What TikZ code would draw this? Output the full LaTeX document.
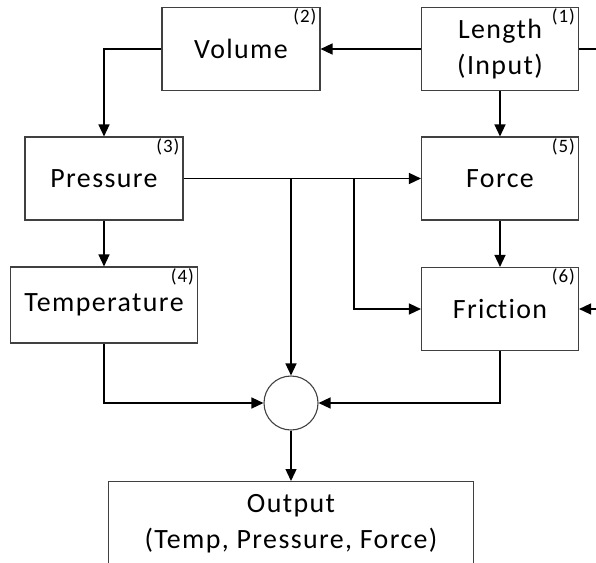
\documentclass[tikz,border=0pt]{standalone}
\usepackage{fontspec}
\setmainfont{Carlito}[LetterSpace=5,Ligatures={NoCommon,NoDiscretionary,NoContextual}]
\usetikzlibrary{arrows.meta}
\begin{document}
\begin{tikzpicture}[x=1bp,y=-1bp,
  blk/.style={draw=black!75,line width=1.1bp,fill=white,inner sep=0pt,font=\fontsize{28}{36}\selectfont,align=center},
  num/.style={font=\fontsize{19}{21}\selectfont,anchor=north east,inner sep=0pt},
  arr/.style={line width=1.4bp,-{Triangle[length=12bp,width=11bp]}},
  ln/.style={line width=1.4bp}]
\useasboundingbox (0,0) rectangle (596,563);
\clip (0,0) rectangle (596,563);
\node[blk,minimum width=157bp,minimum height=83bp] (len) at (500,49) {Length\\(Input)};
\node[blk,minimum width=158bp,minimum height=83bp] (vol) at (241,49) {Volume};
\node[blk,minimum width=158bp,minimum height=83bp] (pres) at (104,178.5) {Pressure};
\node[blk,minimum width=157bp,minimum height=83bp] (force) at (500,178.5) {Force};
\node[blk,minimum width=187bp,minimum height=76bp] (temp) at (104,305) {Temperature};
\node[blk,minimum width=157bp,minimum height=83bp] (fric) at (500,309) {Fric\kern0pt tion};
\node[draw=black!75,line width=1.1bp,circle,minimum size=54bp,inner sep=0pt] (circ) at (291,403) {};
\node[blk,minimum width=365bp,minimum height=110bp,anchor=north] (out) at (291,481) {};
\node[font=\fontsize{28}{36}\selectfont,align=center] (outtxt) at (291,524) {Output\\(Temp, Pressure, Force)};
\node[num] (n1) at (len.north east) [xshift=-4bp,yshift=-2bp] {(1)};
\node[num] (n2) at (vol.north east) [xshift=-4bp,yshift=-2bp] {(2)};
\node[num] (n3) at (pres.north east) [xshift=-4bp,yshift=-2bp] {(3)};
\node[num] (n5) at (force.north east) [xshift=-4bp,yshift=-2bp] {(5)};
\node[num] (n4) at (temp.north east) [xshift=-4bp,yshift=-2bp] {(4)};
\node[num] (n6) at (fric.north east) [xshift=-4bp,yshift=-2bp] {(6)};
\coordinate (rin1) at (600,49);
\coordinate (rin2) at (600,309);
\coordinate (j1) at (291,178.5);
\coordinate (j2) at (354,178.5);
\draw[arr] (len.west) -- (vol.east);
\draw[ln] (len.east) -- (rin1);
\draw[arr] (vol.west) -| (pres.north);
\draw[arr] (len.south) -- (force.north);
\draw[arr] (pres.east) -- (force.west);
\draw[arr] (j1) -- (circ.north);
\draw[arr] (j2) |- (fric.west);
\draw[arr] (pres.south) -- (temp.north);
\draw[arr] (force.south) -- (fric.north);
\draw[arr] (rin2) -- (fric.east);
\draw[arr] (temp.south) |- (circ.west);
\draw[arr] (fric.south) |- (circ.east);
\draw[arr] (circ.south) -- (out.north);
\end{tikzpicture}
\end{document}
